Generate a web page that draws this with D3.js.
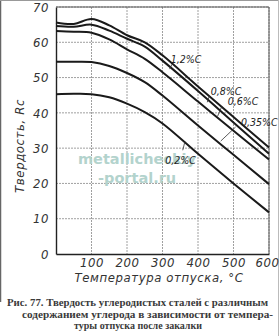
<!DOCTYPE html>
<html>
<head>
<meta charset="utf-8">
<script src="https://cdn.jsdelivr.net/npm/d3@7"></script>
<style>
  body { margin: 0; background: #fff; }
  svg { display: block; }
</style>
</head>
<body>
<script>
// temperature points (°C) and hardness (Rc) for each carbon content
var temps = [0, 50, 100, 150, 200, 250, 300, 400, 500, 600];
var c12  = [65.6, 65.2, 66.6, 64.8, 62.0, 60.0, 56.3, 47.5, 38.8, 30.2];
var c08  = [64.6, 64.4, 65.0, 63.3, 61.0, 58.8, 54.8, 46.2, 37.3, 28.4];
var c06  = [63.2, 63.0, 62.7, 60.8, 58.0, 55.3, 51.5, 43.2, 34.9, 26.8];
var c035 = [54.5, 54.5, 54.4, 53.3, 51.3, 48.7, 44.9, 36.4, 28.1, 19.8];
var c02  = [45.3, 45.4, 45.3, 44.4, 42.6, 40.2, 37.0, 28.4, 20.0, 11.8];

var seriesNames = ["1,2%C", "0,8%C", "0,6%C", "0,35%C", "0,2%C"];
var seriesValues = [c12, c08, c06, c035, c02];

// label text anchor and leader line (temperature, hardness)
var labelT = [323, 436, 484, 521, 308];
var labelH = [54.2, 45.0, 42.1, 36.4, 25.6];
var leaderFrom = [[327, 53.8], [432, 44.8], [467, 41.8], [506, 36.0], [363, 31.8]];
var leaderTo   = [[320, 52.4], [426, 43.0], [455, 39.0], [464, 32.0], [357, 29.4]];

var xTicks = [100, 200, 300, 400, 500, 600];
var yTicks = [0, 10, 20, 30, 40, 50, 60, 70];

var caption = [
    "Рис. 77. Твердость углеродистых сталей с различным",
    "содержанием углерода в зависимости от темпера-",
    "туры отпуска после закалки"
];

var w = 279, h = 336;
var mLeft = 56, mRight = 269, mTop = 7, mBottom = 254;
var axisFont = "'Liberation Sans Narrow', 'DejaVu Sans Condensed', sans-serif";

var svg = d3.select("body").append("svg")
    .attr("width", w)
    .attr("height", h);

// page frame
svg.append("line").attr("x1", 0.5).attr("x2", 0.5).attr("y1", 0).attr("y2", 302)
    .attr("stroke", "#666").attr("stroke-width", 1.5);
svg.append("line").attr("x1", 0).attr("x2", w).attr("y1", 0.5).attr("y2", 0.5)
    .attr("stroke", "#999");
svg.append("line").attr("x1", 278.5).attr("x2", 278.5).attr("y1", 0).attr("y2", h)
    .attr("stroke", "#bbb");

var x = d3.scaleLinear().domain([0, 600]).range([mLeft, mRight]);
var y = d3.scaleLinear().domain([0, 70]).range([mBottom, mTop]);

// grid
var grid = svg.append("g");
grid.selectAll("line.h")
    .data(yTicks.slice(1))
    .enter().append("line")
    .attr("x1", mLeft).attr("x2", mRight)
    .attr("y1", function(d) { return y(d); })
    .attr("y2", function(d) { return y(d); })
    .attr("stroke", "#888").attr("stroke-width", 0.8)
    .attr("stroke-dasharray", "2,1");
grid.selectAll("line.v")
    .data(xTicks)
    .enter().append("line")
    .attr("y1", mTop).attr("y2", mBottom)
    .attr("x1", function(d) { return x(d); })
    .attr("x2", function(d) { return x(d); })
    .attr("stroke", "#888").attr("stroke-width", 0.8)
    .attr("stroke-dasharray", "2,1");

// watermark
svg.append("text")
    .attr("x", 78).attr("y", 164)
    .style("font-family", "'DejaVu Sans', sans-serif")
    .style("font-weight", "bold").style("font-size", "14.5px")
    .attr("fill", "#b3d3cd")
    .text("metallicheckiy");
svg.append("text")
    .attr("x", 98).attr("y", 183)
    .style("font-family", "'DejaVu Sans', sans-serif")
    .style("font-weight", "bold").style("font-size", "14.5px")
    .attr("fill", "#b3d3cd")
    .text("-portal.ru");

// axes
var xAxis = d3.axisBottom(x).tickValues(xTicks).tickSize(0).tickPadding(5);
var yAxis = d3.axisLeft(y).tickValues(yTicks).tickSize(0).tickPadding(7);

var gx = svg.append("g").attr("transform", "translate(0," + mBottom + ")").call(xAxis);
var gy = svg.append("g").attr("transform", "translate(" + mLeft + ",0)").call(yAxis);
[gx, gy].forEach(function(g) {
    g.select(".domain").attr("stroke", "#222").attr("stroke-width", 1.4);
    g.selectAll("text")
        .style("font-family", axisFont)
        .style("font-style", "italic")
        .style("font-size", "13px")
        .style("letter-spacing", "0.6px")
        .attr("fill", "#333");
});
gx.selectAll("text").attr("dy", "0.6em");
gx.selectAll("text").filter(function(d) { return d === 600; }).attr("dx", "-2");

// top and right border of the plot
svg.append("line").attr("x1", mLeft).attr("x2", mRight).attr("y1", mTop).attr("y2", mTop)
    .attr("stroke", "#555").attr("stroke-width", 1);
svg.append("line").attr("x1", mRight).attr("x2", mRight).attr("y1", mTop).attr("y2", mBottom)
    .attr("stroke", "#555").attr("stroke-width", 1);

// axis titles
svg.append("text")
    .attr("transform", "translate(24," + 146 + ") rotate(-90)")
    .attr("text-anchor", "middle")
    .style("font-family", axisFont).style("font-style", "italic")
    .style("font-size", "13px").style("letter-spacing", "0.6px")
    .attr("fill", "#333")
    .text("Твердость, Rc");
svg.append("text")
    .attr("x", 159).attr("y", 282)
    .attr("text-anchor", "middle")
    .style("font-family", axisFont).style("font-style", "italic")
    .style("font-size", "13px").style("letter-spacing", "0.6px")
    .attr("fill", "#333")
    .text("Температура отпуска, °C");

// curves
var line = d3.line()
    .x(function(d, i) { return x(temps[i]); })
    .y(function(d) { return y(d); })
    .curve(d3.curveCatmullRom.alpha(0.5));

svg.selectAll("path.curve")
    .data(seriesValues)
    .enter().append("path")
    .attr("class", "curve")
    .attr("d", line)
    .attr("fill", "none")
    .attr("stroke", "#1a1a1a")
    .attr("stroke-width", 2);

// curve labels
var labels = svg.selectAll("g.lbl")
    .data(seriesNames)
    .enter().append("g")
    .attr("class", "lbl");
labels.append("line")
    .attr("x1", function(d, i) { return x(leaderFrom[i][0]); })
    .attr("y1", function(d, i) { return y(leaderFrom[i][1]); })
    .attr("x2", function(d, i) { return x(leaderTo[i][0]); })
    .attr("y2", function(d, i) { return y(leaderTo[i][1]); })
    .attr("stroke", "#333").attr("stroke-width", 0.8);
labels.append("text")
    .attr("x", function(d, i) { return x(labelT[i]); })
    .attr("y", function(d, i) { return y(labelH[i]); })
    .style("font-family", axisFont).style("font-style", "italic")
    .style("font-size", "10.5px")
    .attr("fill", "#222")
    .text(function(d) { return d; });

// caption
var capX = [7, 22, 74];
var capLen = [261, 251, 128];
var capY = [306, 318, 329];
svg.selectAll("text.cap")
    .data(caption)
    .enter().append("text")
    .attr("class", "cap")
    .attr("x", function(d, i) { return capX[i]; })
    .attr("y", function(d, i) { return capY[i]; })
    .attr("textLength", function(d, i) { return capLen[i]; })
    .attr("lengthAdjust", "spacingAndGlyphs")
    .style("font-family", "'Liberation Serif', 'DejaVu Serif', serif")
    .style("font-weight", "bold")
    .style("font-size", "10px")
    .attr("fill", "#3a3a3a")
    .text(function(d) { return d; });
</script>
</body>
</html>
